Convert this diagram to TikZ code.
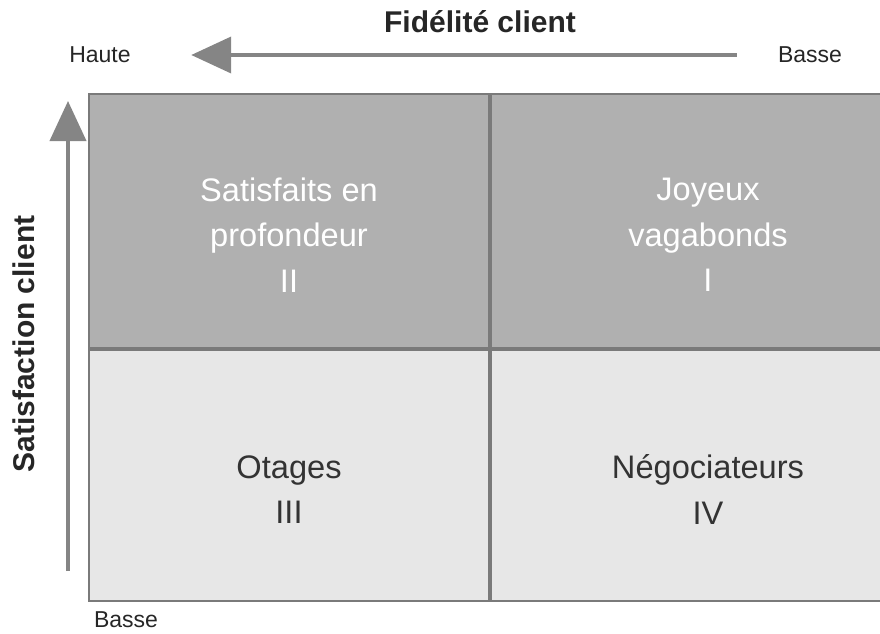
\documentclass[tikz,border=0pt]{standalone}
\usepackage{fontspec}
\setmainfont{Liberation Sans}
\usepackage{xcolor}
\usetikzlibrary{positioning,arrows.meta}

\definecolor{darkcell}{HTML}{B0B0B0}
\definecolor{lightcell}{HTML}{E7E7E7}
\definecolor{gridline}{HTML}{7A7A7A}
\definecolor{axisgray}{HTML}{858585}
\definecolor{celltext}{HTML}{333333}
\definecolor{labeltext}{HTML}{262626}

\begin{document}
\begin{tikzpicture}[
    x=1pt,y=-1pt,
    cell/.style={rectangle,draw=gridline,line width=2pt,inner sep=0pt},
    hicell/.style={cell,fill=darkcell},
    locell/.style={cell,fill=lightcell},
    celltxt/.style={align=center,yshift=-14pt,font=\fontsize{32.6}{45.5}\selectfont},
    axis/.style={line width=4pt,draw=axisgray,-{Triangle[length=40pt,width=36pt]}},
    endlabel/.style={font=\fontsize{23}{27}\selectfont,text=labeltext},
    axistitle/.style={font=\fontsize{30}{34}\selectfont\bfseries,text=labeltext}
]
\useasboundingbox (0,0) rectangle (880,633);

% the four quadrants
\node[hicell,minimum width=400pt,minimum height=254pt] (q2) at (289,221) {};
\node[hicell,minimum width=434pt,minimum height=254pt,right=0pt of q2] (q1) {};
\node[locell,minimum width=400pt,minimum height=251pt,below=0pt of q2] (q3) {};
\node[locell,minimum width=434pt,minimum height=251pt,below=0pt of q1] (q4) {};

\node[celltxt,text=white] (t2) at (q2) {Satisfaits en\\profondeur\\II};
\node[celltxt,text=white] (t1) at (q1) {Joyeux\\vagabonds\\I};
\node[celltxt,text=celltext] (t3) at (q3) {Otages\\III};
\node[celltxt,text=celltext] (t4) at (q4) {Négociateurs\\IV};

% horizontal axis
\node[axistitle] (fid) at (480,22) {Fidélité client};
\node[endlabel] (haute) at (100,55) {Haute};
\node[endlabel] (basseF) at (810,55) {Basse};
\draw[axis,shorten <=38pt,shorten >=57pt] (basseF.west) -- (haute.east);

% vertical axis
\node[axistitle,rotate=90] (sat) at (24,344) {Satisfaction client};
\node[endlabel] (basseS) at (126,620) {Basse};
\coordinate (s0) at (68,571);
\coordinate (s1) at (68,101);
\draw[axis] (s0) -- (s1);

\end{tikzpicture}
\end{document}
